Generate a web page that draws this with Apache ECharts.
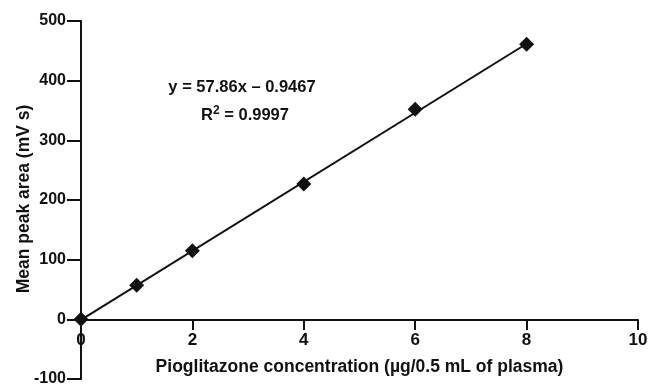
<!DOCTYPE html>
<html><head><meta charset="utf-8">
<script src="https://cdn.jsdelivr.net/npm/echarts@6/dist/echarts.min.js"></script>
<style>html,body{margin:0;padding:0;background:#fff}#c{width:649px;height:387px}</style>
</head><body><div id="c"></div>
<script>
const concX = [0, 1, 2, 4, 6, 8];
const peakArea = [0, 57, 115, 227, 352, 461];
const fitX = [0, 8];
const fitY = [-0.95, 461.9];
const xTicks = [0, 2, 4, 6, 8, 10];
const yTicks = [-100, 0, 100, 200, 300, 400, 500];
const eqText = 'y = 57.86x \u2013 0.9467';
const r2Text = '= 0.9997';
const xTitle = 'Pioglitazone concentration (\u00b5g/0.5 mL of plasma)';
const yTitle = 'Mean peak area (mV s)';

const FONT = 'Liberation Sans, Arial, sans-serif';
const INK = '#111111';
const chart = echarts.init(document.getElementById('c'), null, {renderer: 'canvas'});
chart.setOption({
  animation: false,
  backgroundColor: '#fff',
  grid: {left: 81, right: 11, top: 21, bottom: 8, containLabel: false, outerBoundsMode: 'none'},
  xAxis: {
    type: 'value', min: xTicks[0], max: xTicks[xTicks.length - 1], interval: 2,
    position: 'bottom', offset: -59,
    axisLine: {onZero: false, lineStyle: {color: INK, width: 2}},
    axisTick: {show: true, inside: false, length: 10, lineStyle: {color: INK, width: 2}},
    axisLabel: {color: INK, fontFamily: FONT, fontWeight: 'bold', fontSize: 17, margin: 12},
    splitLine: {show: false},
    name: xTitle, nameLocation: 'middle', nameGap: 38,
    nameTextStyle: {color: INK, fontFamily: FONT, fontWeight: 'bold', fontSize: 17.5}
  },
  yAxis: {
    type: 'value', min: yTicks[0], max: yTicks[yTicks.length - 1], interval: 100,
    axisLine: {onZero: false, lineStyle: {color: INK, width: 2}},
    axisTick: {show: true, length: 14, lineStyle: {color: INK, width: 2}},
    axisLabel: {color: INK, fontFamily: FONT, fontWeight: 'bold', fontSize: 16, margin: 15},
    splitLine: {show: false}
  },
  graphic: [
    {type: 'text', x: 24, y: 199, rotation: Math.PI / 2,
     style: {text: yTitle, fill: INK, font: 'bold 17.5px ' + FONT, textAlign: 'center', textVerticalAlign: 'middle', x: 0, y: 0}},
    {type: 'text', x: 242, y: 87.5,
     style: {text: eqText, fill: INK, font: 'bold 16.5px ' + FONT, textAlign: 'center', textVerticalAlign: 'middle'}},
    {type: 'text', x: 245, y: 115.5,
     style: {text: '{b|R}{s|2}{b| ' + r2Text + '}', textAlign: 'center', textVerticalAlign: 'middle',
       rich: {b: {fill: INK, font: 'bold 16.5px ' + FONT}, s: {fill: INK, font: 'bold 12px ' + FONT, verticalAlign: 'top', padding: [0,0,9,0]}}}}
  ],
  series: [
    {type: 'line', data: fitX.map((x, i) => [x, fitY[i]]), symbol: 'none',
     lineStyle: {color: INK, width: 2}, z: 2},
    {type: 'scatter', data: concX.map((x, i) => [x, peakArea[i]]), symbol: 'diamond', symbolSize: 15,
     itemStyle: {color: INK, opacity: 1}, z: 3}
  ]
});
</script></body></html>
